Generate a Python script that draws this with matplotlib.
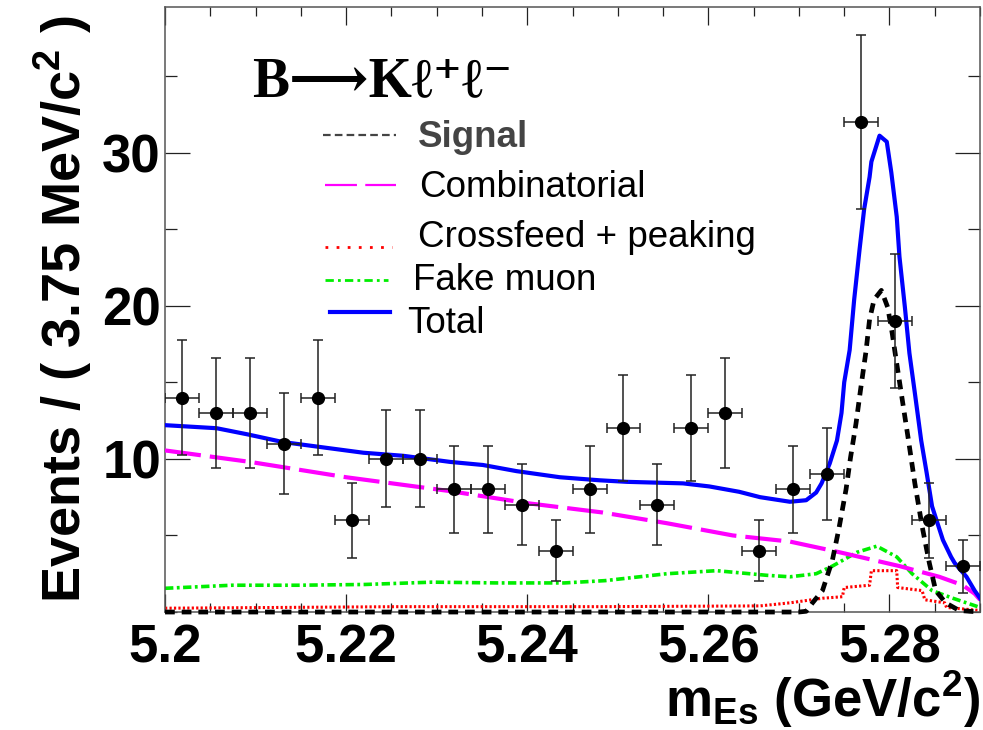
import numpy as np
import matplotlib.pyplot as plt
from matplotlib.lines import Line2D
from matplotlib.ticker import MultipleLocator

plt.rcParams['font.family'] = ['Liberation Sans', 'DejaVu Sans']
plt.rcParams['mathtext.fontset'] = 'custom'
plt.rcParams['mathtext.rm'] = 'Liberation Sans:bold'
plt.rcParams['mathtext.it'] = 'Liberation Sans:bold'
plt.rcParams['mathtext.bf'] = 'Liberation Sans:bold'
plt.rcParams['lines.scale_dashes'] = False

# events per 3.75 MeV bin, 5.20 - 5.29 GeV
bin_lo = 5.2
bin_w = 0.00375
counts = [14, 13, 13, 11, 14, 6, 10, 10, 8, 8, 7, 4,
          8, 12, 7, 12, 13, 4, 8, 9, 32, 19, 6, 3]

# fit components
x_tot = [5.2000, 5.2057, 5.2091, 5.2130, 5.2168, 5.2219, 5.2263, 5.2315, 5.2351,
         5.2388, 5.2436, 5.2480, 5.2510, 5.2572, 5.2601, 5.2634, 5.2657, 5.2690,
         5.2708, 5.2719, 5.2725, 5.2734, 5.2742, 5.2747, 5.2750, 5.2756, 5.2761,
         5.2767, 5.2772, 5.2778, 5.2780, 5.2789, 5.2797, 5.2802, 5.2808, 5.2811,
         5.2817, 5.2822, 5.2828, 5.2835, 5.2841, 5.2847, 5.2859, 5.2868, 5.2872,
         5.2885, 5.2894, 5.2900]
y_tot = [12.2, 12.0, 11.6, 11.1, 10.8, 10.4, 10.2, 9.8, 9.6,
         9.2, 8.8, 8.6, 8.5, 8.4, 8.2, 7.85, 7.5, 7.2,
         7.3, 7.8, 8.4, 9.7, 11.2, 13.0, 15.0, 17.1, 20.4,
         23.7, 26.3, 28.4, 29.4, 31.1, 30.7, 28.7, 25.8, 23.2,
         19.9, 16.9, 14.3, 11.2, 9.1, 6.9, 4.7, 3.6, 3.2,
         2.3, 1.4, 0.9]

x_sig = [5.2000, 5.2700, 5.2708, 5.2715, 5.2726, 5.2737, 5.2744, 5.2752, 5.2757,
         5.2763, 5.2768, 5.2774, 5.2778, 5.2783, 5.2791, 5.2798, 5.2803, 5.2807,
         5.2814, 5.2821, 5.2828, 5.2836, 5.2844, 5.2851, 5.2862, 5.2877, 5.2900]
y_sig = [0.0, 0.0, 0.05, 0.6, 1.4, 3.4, 5.4, 8.0, 10.1,
         12.3, 14.5, 17.0, 19.1, 20.4, 21.0, 19.9, 18.2, 16.6,
         13.9, 11.2, 8.4, 5.6, 3.2, 1.4, 0.6, 0.1, 0.0]

x_comb = [5.2000, 5.2094, 5.2200, 5.2314, 5.2401, 5.2483, 5.2554, 5.2627,
          5.2690, 5.2745, 5.2811, 5.2855, 5.2881, 5.2894, 5.2900]
y_comb = [10.55, 9.8, 8.8, 7.9, 7.1, 6.5, 5.8, 5.0,
          4.6, 3.9, 3.0, 2.3, 1.75, 1.2, 0.8]

x_fake = [5.2000, 5.2074, 5.2147, 5.2221, 5.2295, 5.2367, 5.2441, 5.2486, 5.2554,
          5.2609, 5.2664, 5.2690, 5.2719, 5.2737, 5.2764, 5.2786, 5.2808, 5.2825,
          5.2847, 5.2870, 5.2900]
y_fake = [1.55, 1.75, 1.75, 1.8, 1.95, 1.9, 1.9, 2.05, 2.5,
          2.7, 2.4, 2.3, 2.5, 3.0, 3.9, 4.3, 3.6, 2.5,
          1.4, 0.9, 0.3]

x_cross = [5.2000, 5.2259, 5.2480, 5.2657, 5.2690, 5.2726, 5.2748, 5.2750, 5.2778,
           5.2780, 5.2808, 5.2809, 5.2836, 5.2839, 5.2861, 5.2863, 5.2900]
y_cross = [0.25, 0.35, 0.35, 0.4, 0.6, 0.9, 1.0, 1.6, 1.75,
           2.7, 2.7, 1.6, 1.4, 0.8, 0.6, 0.3, 0.1]

centers = bin_lo + bin_w * (np.arange(len(counts)) + 0.5)
n = np.array(counts, dtype=float)

fig = plt.figure(figsize=(9.83, 7.3), dpi=100)
ax = fig.add_axes([0.1679, 0.1616, 0.8291, 0.8288])

ax.plot(x_cross, y_cross, color='red', lw=2.2, dashes=(1.6, 1.6), zorder=2)
ax.plot(x_fake, y_fake, color='#00ee00', lw=2.6, dashes=(6, 2.5, 2, 2.5), zorder=2)
ax.plot(x_comb, y_comb, color='#ff00ff', lw=3, dashes=(26, 6.5), zorder=3)
ax.plot(x_sig, y_sig, color='black', lw=3.4, dashes=(7, 5), zorder=4, clip_on=False)
ax.plot(x_tot, y_tot, color='#0000ff', lw=3, zorder=5)

ax.errorbar(centers, n, yerr=np.sqrt(n), xerr=bin_w / 2, fmt='o', color='black',
            ms=8.5, ecolor='#222222', elinewidth=1.1, capsize=3.6, capthick=1.1,
            zorder=6)

ax.set_xlim(5.2, 5.29)
ax.set_ylim(0, 39.5)
ax.xaxis.set_minor_locator(MultipleLocator(0.005))
ax.yaxis.set_minor_locator(MultipleLocator(5))
ax.set_yticks([10, 20, 30])
ax.set_xticks([5.2, 5.22, 5.24, 5.26, 5.28])
ax.set_xticklabels(['5.2', '5.22', '5.24', '5.26', '5.28'])

ax.tick_params(which='both', direction='in', top=True, right=True,
               width=0.9, color='#222222')
ax.tick_params(axis='x', which='major', length=13, pad=8)
ax.tick_params(axis='x', which='minor', length=6.5)
ax.tick_params(axis='y', which='major', length=18, pad=3)
ax.tick_params(axis='y', which='minor', length=8.6)
for lab in ax.get_xticklabels() + ax.get_yticklabels():
    lab.set_fontsize(38)
    lab.set_fontweight('bold')
for sp in ax.spines.values():
    sp.set_linewidth(1.1)
    sp.set_color('#555555')

ax.set_ylabel('Events / ( 3.75 MeV/c$^{2}$ )', fontsize=39, fontweight='bold',
              labelpad=6)
ax.set_xlabel('m$_{Es}$ (GeV/c$^{2}$)', fontsize=38, fontweight='bold',
              loc='right', labelpad=-3)

# decay label
ax.text(0.107, 0.853, 'B⟶Kℓ⁺ℓ⁻', transform=ax.transAxes,
        family=['Liberation Serif', 'DejaVu Serif', 'DejaVu Sans'],
        fontweight='bold', fontsize=40, ha='left', va='baseline')

# legend drawn by hand
entries = [
    ('Signal', dict(color='#444444', lw=1.6, dashes=(5.5, 3)), 0.788, 0.194, 0.283, 0.310, 0.769, True),
    ('Combinatorial', dict(color='#ff00ff', lw=1.6, dashes=(23, 6)), 0.706, 0.196, 0.283, 0.312, 0.686, False),
    ('Crossfeed + peaking', dict(color='red', lw=2.0, dashes=(2, 6)), 0.603, 0.196, 0.279, 0.310, 0.603, False),
    ('Fake muon', dict(color='#00ee00', lw=2.0, dashes=(6, 3, 2, 3)), 0.549, 0.196, 0.274, 0.304, 0.532, False),
    ('Total', dict(color='#0000ff', lw=3.0), 0.496, 0.202, 0.276, 0.297, 0.461, False),
]
for label, style, ly, lx0, lx1, tx, ty, bold in entries:
    ax.add_line(Line2D([lx0, lx1], [ly, ly], transform=ax.transAxes, **style))
    ax.text(tx, ty, label, transform=ax.transAxes, fontsize=26.5,
            fontweight='bold' if bold else 'normal',
            color='#444444' if bold else 'black', ha='left', va='baseline')

fig.savefig('out.png', dpi=100)
